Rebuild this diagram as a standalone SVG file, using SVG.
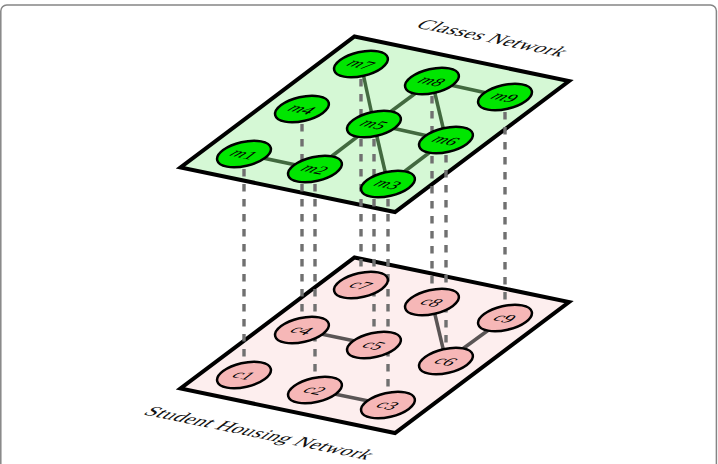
<svg xmlns="http://www.w3.org/2000/svg" width="718" height="464" viewBox="0 0 718 464">
<defs>
<style>
.frame{fill:none;stroke:#858585;stroke-width:1.5}
.plane{stroke:#000;stroke-width:4;stroke-linejoin:miter}
.ptop{fill:#d5f8d5}
.pbot{fill:#fdeeee}
.dash{stroke:#707070;stroke-width:3.4;stroke-dasharray:7.5 7.5;fill:none}
.etop{stroke:#42693f;stroke-width:3.5;fill:none}
.ebot{stroke:#5a5555;stroke-width:3.5;fill:none}
.nt ellipse{fill:#00e600;stroke:#000;stroke-width:2.5}
.nb ellipse{fill:#f6b7b7;stroke:#000;stroke-width:2.5}
.lbl{font-family:"Liberation Serif","DejaVu Serif",serif;font-size:18px;text-anchor:middle;fill:#000}
.ttl{font-family:"Liberation Serif","DejaVu Serif",serif;font-size:21px;text-anchor:middle;fill:#111}
</style>
</defs>
<rect class="frame" x="0.8" y="5" width="715.6" height="480" rx="6"/>

<g id="plane-bottom">
<polygon class="plane pbot" points="354.5,257.5 569,302 395,433 180.5,388.5"/>
</g>
<g id="plane-top">
<polygon class="plane ptop" points="354.5,36.5 569,81 395,212 180.5,167.5"/>
</g>

<g id="titles">
<text class="ttl" transform="matrix(0.98,0.2,-0.8,0.59,487,42)" textLength="148" lengthAdjust="spacing">Classes Network</text>
<text class="ttl" transform="matrix(0.98,0.2,-0.8,0.59,254,437)" textLength="228" lengthAdjust="spacing">Student Housing Network</text>
</g>

<g id="connectors">
<g id="interlayer">
<line class="dash" x1="244" y1="154" x2="244" y2="375"/>
<line class="dash" x1="315" y1="169" x2="315" y2="390"/>
<line class="dash" x1="388" y1="184" x2="388" y2="405"/>
<line class="dash" x1="302" y1="109" x2="302" y2="330"/>
<line class="dash" x1="374" y1="124" x2="374" y2="345"/>
<line class="dash" x1="446" y1="140" x2="446" y2="361"/>
<line class="dash" x1="361" y1="64" x2="361" y2="285"/>
<line class="dash" x1="432" y1="81" x2="432" y2="302"/>
<line class="dash" x1="505" y1="97" x2="505" y2="318"/>
</g>
<g id="edges-top">
<line class="etop" x1="244" y1="154" x2="315" y2="169"/>
<line class="etop" x1="315" y1="169" x2="374" y2="124"/>
<line class="etop" x1="374" y1="124" x2="361" y2="64"/>
<line class="etop" x1="374" y1="124" x2="432" y2="81"/>
<line class="etop" x1="432" y1="81" x2="505" y2="97"/>
<line class="etop" x1="432" y1="81" x2="446" y2="140"/>
<line class="etop" x1="374" y1="124" x2="446" y2="140"/>
<line class="etop" x1="374" y1="124" x2="388" y2="184"/>
<line class="etop" x1="388" y1="184" x2="446" y2="140"/>
</g>
<g id="edges-bottom">
<line class="ebot" x1="302" y1="330" x2="374" y2="345"/>
<line class="ebot" x1="432" y1="302" x2="446" y2="361"/>
<line class="ebot" x1="505" y1="318" x2="446" y2="361"/>
<line class="ebot" x1="315" y1="390" x2="388" y2="405"/>
</g>
</g>

<g id="c1" class="nb"><ellipse cx="244" cy="375" rx="27.5" ry="12" transform="rotate(-13 244 375)"/><text class="lbl" transform="matrix(0.98,0.2,-0.8,0.59,244,375)" y="6"><tspan font-style="italic">c</tspan>1</text></g>
<g id="c2" class="nb"><ellipse cx="315" cy="390" rx="27.5" ry="12" transform="rotate(-13 315 390)"/><text class="lbl" transform="matrix(0.98,0.2,-0.8,0.59,315,390)" y="6"><tspan font-style="italic">c</tspan>2</text></g>
<g id="c3" class="nb"><ellipse cx="388" cy="405" rx="27.5" ry="12" transform="rotate(-13 388 405)"/><text class="lbl" transform="matrix(0.98,0.2,-0.8,0.59,388,405)" y="6"><tspan font-style="italic">c</tspan>3</text></g>
<g id="c4" class="nb"><ellipse cx="302" cy="330" rx="27.5" ry="12" transform="rotate(-13 302 330)"/><text class="lbl" transform="matrix(0.98,0.2,-0.8,0.59,302,330)" y="6"><tspan font-style="italic">c</tspan>4</text></g>
<g id="c5" class="nb"><ellipse cx="374" cy="345" rx="27.5" ry="12" transform="rotate(-13 374 345)"/><text class="lbl" transform="matrix(0.98,0.2,-0.8,0.59,374,345)" y="6"><tspan font-style="italic">c</tspan>5</text></g>
<g id="c6" class="nb"><ellipse cx="446" cy="361" rx="27.5" ry="12" transform="rotate(-13 446 361)"/><text class="lbl" transform="matrix(0.98,0.2,-0.8,0.59,446,361)" y="6"><tspan font-style="italic">c</tspan>6</text></g>
<g id="c7" class="nb"><ellipse cx="361" cy="285" rx="27.5" ry="12" transform="rotate(-13 361 285)"/><text class="lbl" transform="matrix(0.98,0.2,-0.8,0.59,361,285)" y="6"><tspan font-style="italic">c</tspan>7</text></g>
<g id="c8" class="nb"><ellipse cx="432" cy="302" rx="27.5" ry="12" transform="rotate(-13 432 302)"/><text class="lbl" transform="matrix(0.98,0.2,-0.8,0.59,432,302)" y="6"><tspan font-style="italic">c</tspan>8</text></g>
<g id="c9" class="nb"><ellipse cx="505" cy="318" rx="27.5" ry="12" transform="rotate(-13 505 318)"/><text class="lbl" transform="matrix(0.98,0.2,-0.8,0.59,505,318)" y="6"><tspan font-style="italic">c</tspan>9</text></g>

<g id="m1" class="nt"><ellipse cx="244" cy="154" rx="27.5" ry="12" transform="rotate(-13 244 154)"/><text class="lbl" transform="matrix(0.98,0.2,-0.8,0.59,244,154)" y="6"><tspan font-style="italic">m</tspan>1</text></g>
<g id="m2" class="nt"><ellipse cx="315" cy="169" rx="27.5" ry="12" transform="rotate(-13 315 169)"/><text class="lbl" transform="matrix(0.98,0.2,-0.8,0.59,315,169)" y="6"><tspan font-style="italic">m</tspan>2</text></g>
<g id="m3" class="nt"><ellipse cx="388" cy="184" rx="27.5" ry="12" transform="rotate(-13 388 184)"/><text class="lbl" transform="matrix(0.98,0.2,-0.8,0.59,388,184)" y="6"><tspan font-style="italic">m</tspan>3</text></g>
<g id="m4" class="nt"><ellipse cx="302" cy="109" rx="27.5" ry="12" transform="rotate(-13 302 109)"/><text class="lbl" transform="matrix(0.98,0.2,-0.8,0.59,302,109)" y="6"><tspan font-style="italic">m</tspan>4</text></g>
<g id="m5" class="nt"><ellipse cx="374" cy="124" rx="27.5" ry="12" transform="rotate(-13 374 124)"/><text class="lbl" transform="matrix(0.98,0.2,-0.8,0.59,374,124)" y="6"><tspan font-style="italic">m</tspan>5</text></g>
<g id="m6" class="nt"><ellipse cx="446" cy="140" rx="27.5" ry="12" transform="rotate(-13 446 140)"/><text class="lbl" transform="matrix(0.98,0.2,-0.8,0.59,446,140)" y="6"><tspan font-style="italic">m</tspan>6</text></g>
<g id="m7" class="nt"><ellipse cx="361" cy="64" rx="27.5" ry="12" transform="rotate(-13 361 64)"/><text class="lbl" transform="matrix(0.98,0.2,-0.8,0.59,361,64)" y="6"><tspan font-style="italic">m</tspan>7</text></g>
<g id="m8" class="nt"><ellipse cx="432" cy="81" rx="27.5" ry="12" transform="rotate(-13 432 81)"/><text class="lbl" transform="matrix(0.98,0.2,-0.8,0.59,432,81)" y="6"><tspan font-style="italic">m</tspan>8</text></g>
<g id="m9" class="nt"><ellipse cx="505" cy="97" rx="27.5" ry="12" transform="rotate(-13 505 97)"/><text class="lbl" transform="matrix(0.98,0.2,-0.8,0.59,505,97)" y="6"><tspan font-style="italic">m</tspan>9</text></g>
</svg>
